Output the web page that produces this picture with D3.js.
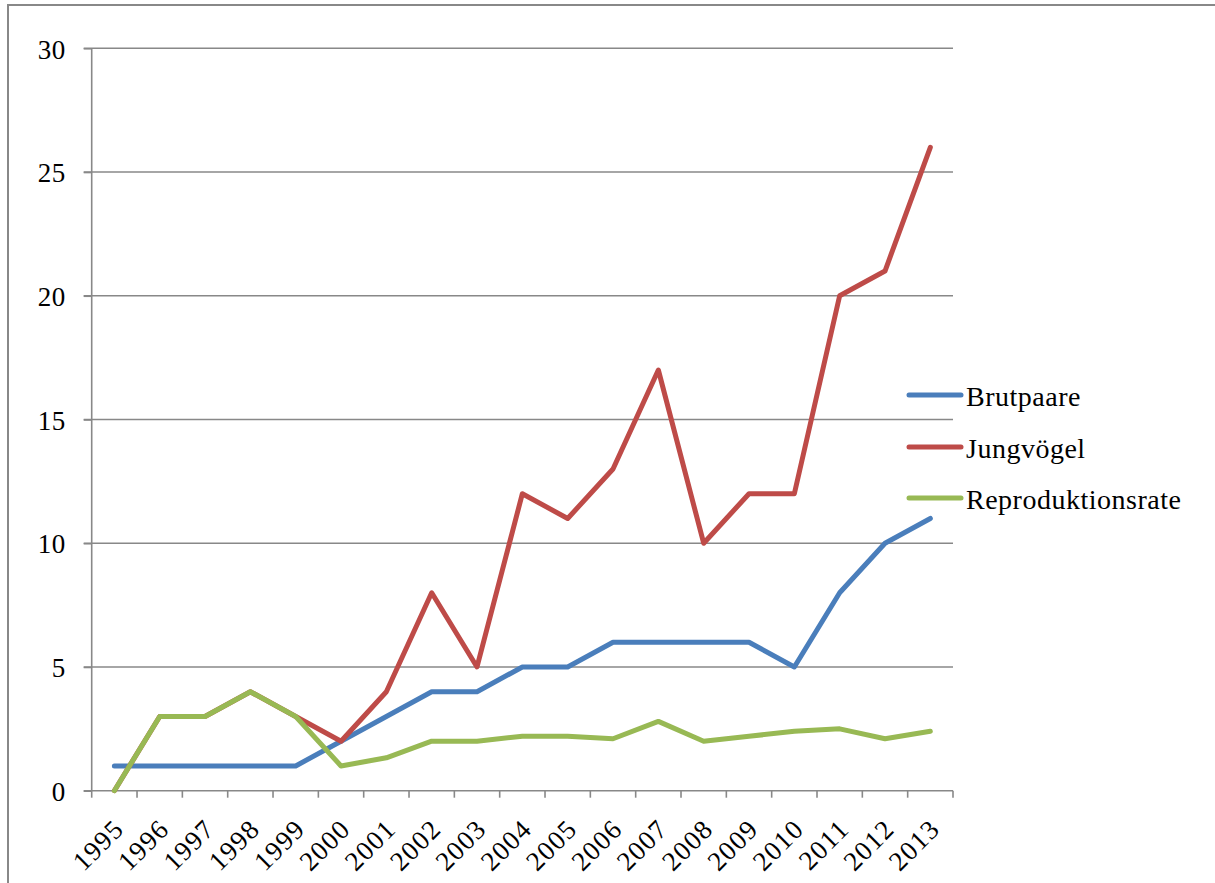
<!DOCTYPE html>
<html>
<head>
<meta charset="utf-8">
<script src="https://cdn.jsdelivr.net/npm/d3@7"></script>
<style>
  body { margin: 0; background: #fff; }
  svg { display: block; }
</style>
</head>
<body>
<div id="chart-area"></div>
<script>
/*
*    chart: Brutpaare / Jungvögel / Reproduktionsrate
*/

var years = ["1995", "1996", "1997", "1998", "1999", "2000", "2001", "2002", "2003", "2004",
    "2005", "2006", "2007", "2008", "2009", "2010", "2011", "2012", "2013"];
var brutpaare = [1, 1, 1, 1, 1, 2, 3, 4, 4, 5, 5, 6, 6, 6, 6, 5, 8, 10, 11];
var jungvoegel = [0, 3, 3, 4, 3, 2, 4, 8, 5, 12, 11, 13, 17, 10, 12, 12, 20, 21, 26];
var reproduktionsrate = [0, 3, 3, 4, 3, 1, 1.33, 2, 2, 2.2, 2.2, 2.1, 2.8, 2, 2.2, 2.4, 2.5, 2.1, 2.4];
var yTicks = [0, 5, 10, 15, 20, 25, 30];

var seriesNames = ["Brutpaare", "Jungvögel", "Reproduktionsrate"];
var seriesValues = [brutpaare, jungvoegel, reproduktionsrate];
var seriesColors = ["#4a7ebb", "#be4b48", "#98b954"];

var font = "'Liberation Serif', 'Times New Roman', serif";
var gridColor = "#888888";

var svg = d3.select("#chart-area")
    .append("svg")
    .attr("width", 1215)
    .attr("height", 883);

// outer frame (cut off at right and bottom)
svg.append("rect")
    .attr("x", 8)
    .attr("y", 5)
    .attr("width", 1300)
    .attr("height", 1000)
    .attr("fill", "none")
    .attr("stroke", gridColor)
    .attr("stroke-width", 2);

var plotLeft = 91.7, plotRight = 953, plotTop = 48.3, plotBottom = 790.7;

var x = d3.scaleBand()
    .domain(years)
    .range([plotLeft, plotRight]);

var y = d3.scaleLinear()
    .domain([0, 30])
    .range([plotBottom, plotTop]);

var cx = (d) => { return x(d) + x.bandwidth() / 2; };

// horizontal grid lines
svg.selectAll("line.grid").data(yTicks.filter((t) => { return t > 0; }))
    .enter()
    .append("line")
        .attr("class", "grid")
        .attr("x1", plotLeft - 8)
        .attr("x2", plotRight)
        .attr("y1", (d) => { return y(d); })
        .attr("y2", (d) => { return y(d); })
        .attr("stroke", gridColor)
        .attr("stroke-width", 1.6);

// y axis
var yAxis = d3.axisLeft(y)
    .tickValues(yTicks)
    .tickSize(8)
    .tickPadding(18)
    .tickFormat(d3.format("d"));

var yg = svg.append("g")
    .attr("transform", "translate(" + plotLeft + ",0)")
    .call(yAxis);
yg.select(".domain").attr("stroke", gridColor).attr("stroke-width", 1.6)
    .attr("d", "M0," + plotTop + "V" + plotBottom);
yg.selectAll(".tick line").attr("stroke", gridColor).attr("stroke-width", 1.6);
yg.selectAll(".tick text")
    .attr("font-family", font)
    .attr("font-size", 27)
    .attr("letter-spacing", 0.5)
    .attr("fill", "#000")
    .attr("dy", "0.36em");

// x axis
svg.append("line")
    .attr("x1", plotLeft - 8)
    .attr("x2", plotRight)
    .attr("y1", plotBottom)
    .attr("y2", plotBottom)
    .attr("stroke", gridColor)
    .attr("stroke-width", 1.6);

var edges = years.map((d) => { return x(d); }).concat([plotRight]);
svg.selectAll("line.xtick").data(edges)
    .enter()
    .append("line")
        .attr("class", "xtick")
        .attr("x1", (d) => { return d; })
        .attr("x2", (d) => { return d; })
        .attr("y1", plotBottom)
        .attr("y2", plotBottom + 7)
        .attr("stroke", gridColor)
        .attr("stroke-width", 1.6);

svg.selectAll("text.xlabel").data(years)
    .enter()
    .append("text")
        .attr("class", "xlabel")
        .attr("transform", (d) => {
            return "translate(" + (cx(d) + 11) + "," + (plotBottom + 40) + ") rotate(-45)";
        })
        .attr("text-anchor", "end")
        .attr("font-family", font)
        .attr("font-size", 27)
        .attr("letter-spacing", 1.2)
        .attr("fill", "#000")
        .text((d) => { return d; });

// series lines
var line = d3.line()
    .x((d, i) => { return cx(years[i]); })
    .y((d) => { return y(d); });

svg.selectAll("path.series").data(seriesValues)
    .enter()
    .append("path")
        .attr("class", "series")
        .attr("d", (d) => { return line(d); })
        .attr("fill", "none")
        .attr("stroke", (d, i) => { return seriesColors[i]; })
        .attr("stroke-width", 5)
        .attr("stroke-linejoin", "round")
        .attr("stroke-linecap", "round");

// legend
var legendY = [395, 447, 498];
var legend = svg.selectAll("g.legend").data(seriesNames)
    .enter()
    .append("g")
        .attr("class", "legend")
        .attr("transform", (d, i) => { return "translate(0," + legendY[i] + ")"; });

legend.append("line")
    .attr("x1", 909)
    .attr("x2", 961)
    .attr("y1", 0)
    .attr("y2", 0)
    .attr("stroke", (d, i) => { return seriesColors[i]; })
    .attr("stroke-width", 5)
    .attr("stroke-linecap", "round");

legend.append("text")
    .attr("x", 966)
    .attr("y", 11)
    .attr("font-family", font)
    .attr("font-size", 28)
    .attr("letter-spacing", 0.5)
    .attr("fill", "#000")
    .text((d) => { return d; });
</script>
</body>
</html>
